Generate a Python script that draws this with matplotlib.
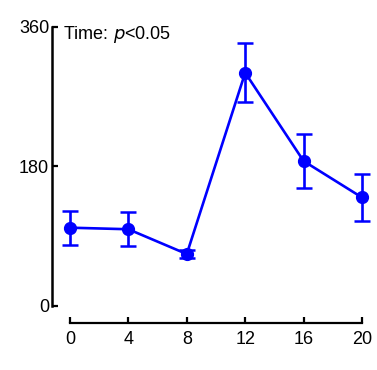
import matplotlib
matplotlib.use('Agg')
import matplotlib.pyplot as plt

# Data
time_h = [0, 4, 8, 12, 16, 20]
mean_val = [101, 99, 67, 301, 187, 140]
sem_val = [22, 22, 5, 38, 35, 30]

x_ticks = [0, 4, 8, 12, 16, 20]
y_ticks = [0, 180, 360]

plt.rcParams['font.family'] = ['Liberation Sans', 'DejaVu Sans']

fig = plt.figure(figsize=(3.77, 3.70), dpi=100)
ax = fig.add_axes([52 / 377, (370 - 323) / 370, (362 - 52) / 377, (323 - 27) / 370])

ax.errorbar(time_h, mean_val, yerr=sem_val, color='#0000ff', marker='o',
            markersize=8.5, linewidth=1.9, elinewidth=1.9, capsize=6,
            capthick=1.8, clip_on=False, zorder=3)

ax.set_xlim(-1.23, 20)
ax.set_ylim(-22, 360)
ax.set_xticks(x_ticks)
ax.set_yticks(y_ticks)

for s in ['top', 'right']:
    ax.spines[s].set_visible(False)
ax.spines['left'].set_bounds(0, 360)
ax.spines['bottom'].set_bounds(0, 20)
ax.spines['left'].set_linewidth(1.8)
ax.spines['bottom'].set_linewidth(1.6)

ax.tick_params(axis='both', direction='in', length=4, width=1.6,
               labelsize=13)
ax.tick_params(axis='x', pad=6)
ax.tick_params(axis='y', pad=2)

ax.text(0.035, 0.975, 'Time: $\\it{p}$<0.05', transform=ax.transAxes,
        fontsize=13, va='center', ha='left')

plt.savefig('out.png', dpi=100)
